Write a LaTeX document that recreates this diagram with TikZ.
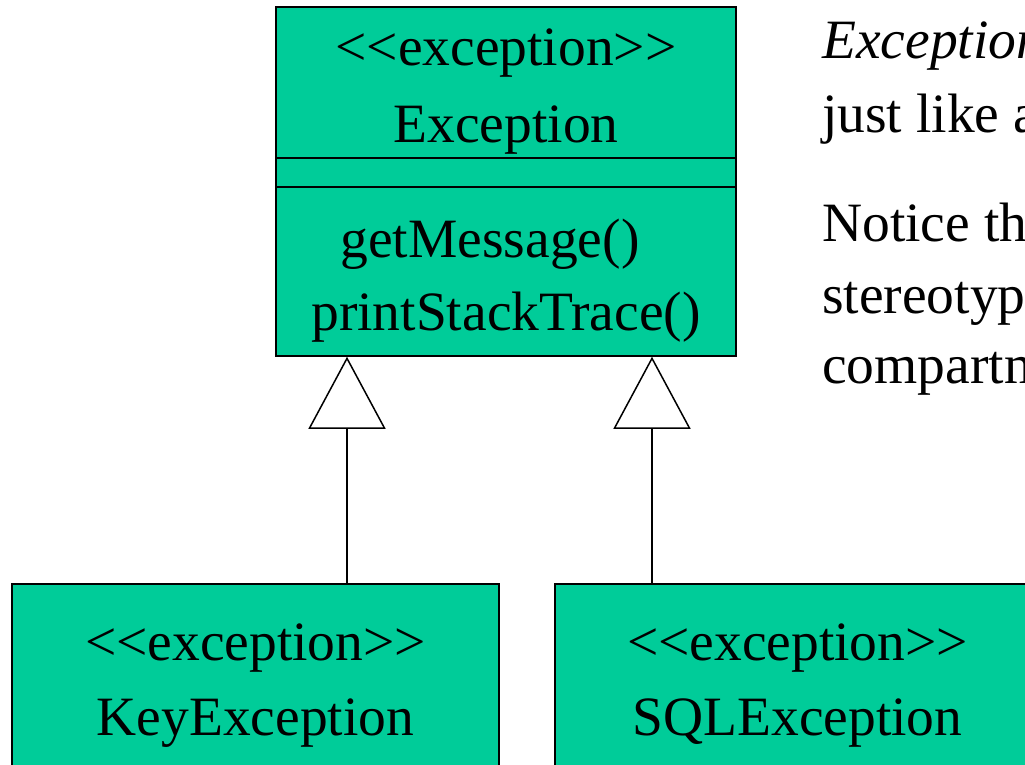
\documentclass[tikz,border=0pt]{standalone}
\usepackage{fontspec}
\setmainfont{Liberation Serif}
\usetikzlibrary{arrows.meta}
\definecolor{umlgreen}{RGB}{0,204,153}
\newcommand{\stereo}[1]{<{}<#1>{}>}

\begin{document}
\begin{tikzpicture}[x=1pt,y=-1pt,
		umlbox/.style={draw,line width=1.5pt,fill=umlgreen,minimum width=#1,inner sep=0pt},
		txt/.style={anchor=base,inner sep=0pt,font=\fontsize{55.5}{66}\selectfont},
		gen/.style={line width=1.5pt,-{Triangle[open,length=72pt,width=77pt,line width=1.5pt]}}]
		\useasboundingbox (0,0) rectangle (1025,764);
		\clip (0,0) rectangle (1025,764);

		% classes
		\node[umlbox=460pt,minimum height=349pt] (exc) at (506,181.5) {};
		\node[umlbox=487pt,minimum height=236pt] (key) at (255.5,702) {};
		\node[umlbox=485pt,minimum height=236pt] (sql) at (797.5,702) {};

		\draw[line width=1.5pt] (exc.west |- 0,158) -- (exc.east |- 0,158);
		\draw[line width=1.5pt] (exc.west |- 0,187) -- (exc.east |- 0,187);

		\node[txt] (excst) at (506,65) {\stereo{exception}};
		\node[txt] (excname) at (506,142) {Exception};
		\node[txt] (getmsg) at (490,257) {getMessage()};
		\node[txt] (prtrace) at (506,330) {printStackTrace()};

		\node[txt] (keyst) at (255.5,660) {\stereo{exception}};
		\node[txt] (keyname) at (255.5,735) {KeyException};
		\node[txt] (sqlst) at (797.5,660) {\stereo{exception}};
		\node[txt] (sqlname) at (797.5,735) {SQLException};

		% generalisation
		\coordinate (keyup) at (347,584);
		\coordinate (sqlup) at (652,584);
		\draw[gen] (keyup) -- (keyup |- exc.south);
		\draw[gen] (sqlup) -- (sqlup |- exc.south);

		% side text
		\node[txt,anchor=base west] (note1) at (822,58) {\itshape Exception};
		\node[txt,anchor=base west] (note2) at (822,132) {just like a};
		\node[txt,anchor=base west] (note3) at (822,241) {Notice the};
		\node[txt,anchor=base west] (note4) at (822,313) {stereotype};
		\node[txt,anchor=base west] (note5) at (822,383) {compartment};
	\end{tikzpicture}
\end{document}
